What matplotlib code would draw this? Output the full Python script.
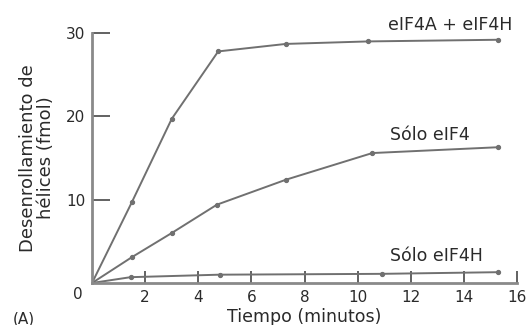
import matplotlib

matplotlib.use("Agg")
import matplotlib.pyplot as plt

# values
t_a_h = [0, 1.5, 3.0, 4.75, 7.3, 10.4, 15.3]
y_a_h = [0, 9.7, 19.7, 27.8, 28.7, 29.0, 29.2]

t_4 = [0, 1.5, 3.0, 4.7, 7.3, 10.55, 15.3]
y_4 = [0, 3.1, 6.0, 9.4, 12.4, 15.6, 16.3]

t_h = [0, 1.45, 4.8, 10.9, 15.3]
y_h = [0, 0.7, 1.0, 1.1, 1.3]

x_ticks = [2, 4, 6, 8, 10, 12, 14, 16]
y_ticks = [10, 20, 30]

LINE = "#707070"
AXIS = "#8a8a8a"
TEXT = "#2a2a2a"

plt.rcParams["font.family"] = ["DejaVu Sans"]

fig = plt.figure(figsize=(5.27, 3.25), dpi=100)
ax = fig.add_axes([0.1746, 0.1292, 0.8065, 0.769])

for t, y in [(t_a_h, y_a_h), (t_4, y_4), (t_h, y_h)]:
    ax.plot(t, y, "-", color=LINE, lw=1.4, marker="o", ms=2.8, mfc=LINE, mec=LINE)

ax.set_xlim(0, 16)
ax.set_ylim(0, 30)
for s in ("top", "right"):
    ax.spines[s].set_visible(False)
for s in ("left", "bottom"):
    ax.spines[s].set_color(AXIS)
    ax.spines[s].set_linewidth(2)

ax.set_xticks(x_ticks)
ax.set_yticks(y_ticks)
ax.tick_params(axis="x", direction="in", length=9, width=1.3, color="#555555",
               labelsize=11, labelcolor=TEXT, pad=5)
ax.tick_params(axis="y", direction="in", length=13, width=1.3, color="#555555",
               labelsize=11, labelcolor=TEXT, pad=5)

ax.text(-0.35, -0.5, "0", ha="right", va="top", fontsize=11, color=TEXT)

ax.set_xlabel("Tiempo (minutos)", fontsize=12.5, color=TEXT, labelpad=2)
ax.set_ylabel("Desenrollamiento de\nhélices (fmol)", fontsize=13, color=TEXT,
              linespacing=1.0, labelpad=8)

ax.text(13.5, 31.0, "eIF4A + eIF4H", ha="center", va="center", fontsize=12.5, color=TEXT)
ax.text(12.7, 17.8, "Sólo eIF4", ha="center", va="center", fontsize=12.5, color=TEXT)
ax.text(12.95, 3.2, "Sólo eIF4H", ha="center", va="center", fontsize=12.5, color=TEXT)

fig.text(0.025, 0.005, "(A)", fontsize=11, color=TEXT)

fig.savefig("out.png", dpi=100)
